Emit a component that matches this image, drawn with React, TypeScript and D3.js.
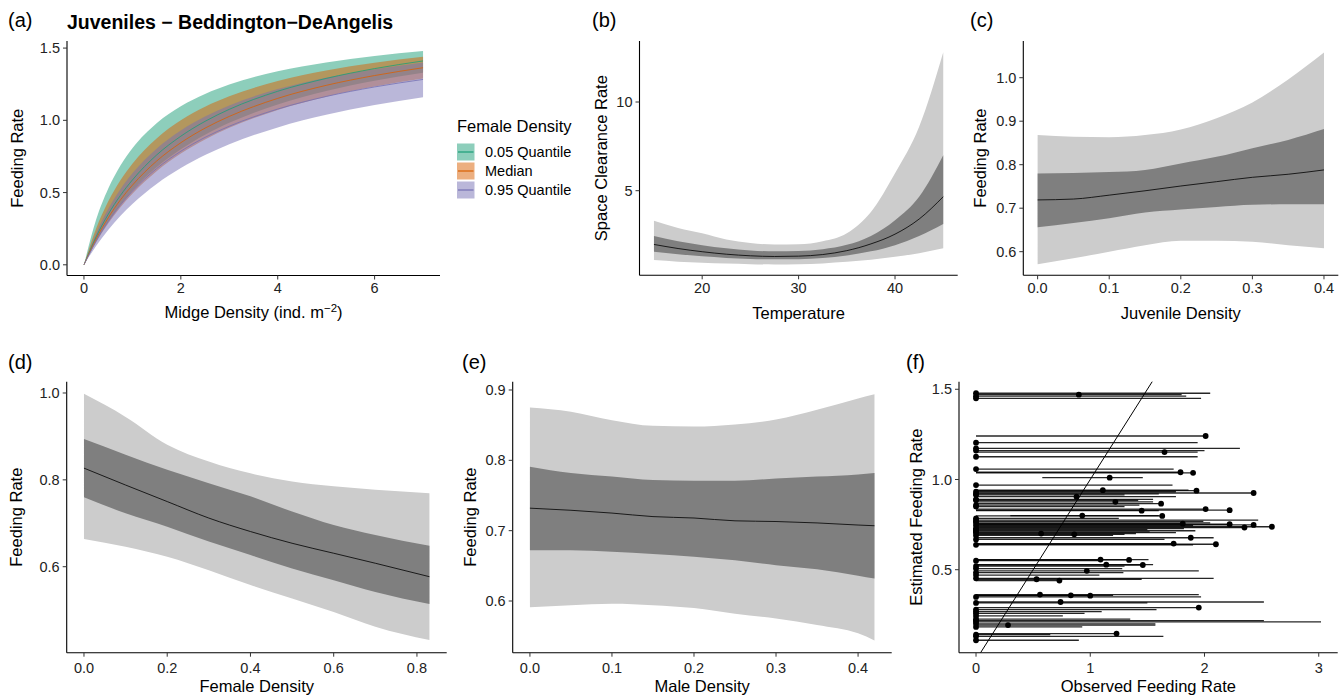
import React from "react";
import * as d3 from "d3";

const FONT = "'Liberation Sans', Arial, Helvetica, sans-serif";

// ---------- Panel (a) ----------
const aX = [0, 0.25, 0.5, 0.75, 1, 1.5, 2, 2.5, 3, 4, 5, 6, 7];
const greenUpper = [0, 0.312, 0.527, 0.686, 0.807, 0.98, 1.098, 1.183, 1.248, 1.34, 1.401, 1.446, 1.479];
const greenMid = [0, 0.193, 0.349, 0.479, 0.587, 0.76, 0.89, 0.993, 1.076, 1.201, 1.29, 1.358, 1.411];
const greenLower = [0, 0.163, 0.299, 0.415, 0.514, 0.675, 0.8, 0.901, 0.983, 1.11, 1.203, 1.274, 1.33];
const orangeUpper = [0, 0.25, 0.438, 0.584, 0.7, 0.875, 1.0, 1.094, 1.166, 1.272, 1.345, 1.399, 1.44];
const orangeMid = [0, 0.179, 0.325, 0.448, 0.551, 0.718, 0.845, 0.946, 1.027, 1.152, 1.242, 1.31, 1.364];
const orangeLower = [0, 0.155, 0.286, 0.397, 0.492, 0.648, 0.77, 0.868, 0.948, 1.072, 1.164, 1.234, 1.29];
const purpleUpper = [0, 0.217, 0.386, 0.521, 0.633, 0.804, 0.93, 1.026, 1.103, 1.216, 1.295, 1.354, 1.4];
const purpleMid = [0, 0.164, 0.299, 0.413, 0.51, 0.666, 0.786, 0.882, 0.959, 1.078, 1.165, 1.231, 1.283];
const purpleLower = [0, 0.13, 0.241, 0.337, 0.421, 0.56, 0.67, 0.76, 0.835, 0.951, 1.038, 1.106, 1.16];
const legendLabels = ["0.05 Quantile", "Median", "0.95 Quantile"];
const groupColors = ["#1b9e77", "#d95f02", "#7570b3"];

// ---------- Panel (b) ----------
const bX = [15, 17.5, 20, 22.5, 25, 27.5, 30, 32.5, 35, 37.5, 40, 42.5, 45];
const bLightUp = [3.3, 2.9, 2.6, 2.25, 2.05, 1.97, 1.98, 2.15, 2.6, 3.8, 5.98, 8.6, 12.8];
const bDarkUp = [2.44, 2.15, 1.93, 1.75, 1.63, 1.58, 1.6, 1.7, 1.95, 2.45, 3.34, 4.66, 7.0];
const bMid = [1.97, 1.74, 1.56, 1.42, 1.33, 1.29, 1.31, 1.4, 1.62, 2.0, 2.55, 3.4, 4.66];
const bDarkLo = [1.56, 1.42, 1.3, 1.21, 1.15, 1.13, 1.14, 1.21, 1.35, 1.58, 1.93, 2.45, 3.12];
const bLightLo = [1.09, 1.0, 0.94, 0.89, 0.86, 0.84, 0.85, 0.9, 0.99, 1.1, 1.27, 1.48, 1.75];

// ---------- Panel (c) ----------
const cX = [0, 0.05, 0.1, 0.15, 0.2, 0.25, 0.3, 0.35, 0.4];
const cLightUp = [0.868, 0.864, 0.863, 0.868, 0.881, 0.907, 0.943, 0.996, 1.058];
const cDarkUp = [0.78, 0.781, 0.783, 0.788, 0.803, 0.818, 0.838, 0.857, 0.882];
const cMid = [0.719, 0.721, 0.73, 0.74, 0.751, 0.761, 0.771, 0.778, 0.788];
const cDarkLo = [0.656, 0.666, 0.677, 0.69, 0.697, 0.703, 0.708, 0.709, 0.709];
const cLightLo = [0.571, 0.585, 0.6, 0.615, 0.625, 0.625, 0.623, 0.615, 0.608];

// ---------- Panel (d) ----------
const dX = [0, 0.1, 0.2, 0.3, 0.4, 0.5, 0.6, 0.7, 0.83];
const dLightUp = [0.998, 0.945, 0.881, 0.842, 0.815, 0.796, 0.785, 0.777, 0.769];
const dDarkUp = [0.894, 0.858, 0.823, 0.792, 0.762, 0.727, 0.696, 0.673, 0.648];
const dMid = [0.827, 0.788, 0.75, 0.712, 0.681, 0.654, 0.631, 0.608, 0.577];
const dDarkLo = [0.76, 0.723, 0.692, 0.658, 0.627, 0.596, 0.569, 0.542, 0.514];
const dLightLo = [0.664, 0.646, 0.623, 0.592, 0.558, 0.527, 0.496, 0.462, 0.431];

// ---------- Panel (e) ----------
const eX = [0, 0.05, 0.1, 0.15, 0.2, 0.25, 0.3, 0.35, 0.4, 0.42];
const eLightUp = [0.875, 0.869, 0.857, 0.849, 0.848, 0.851, 0.858, 0.872, 0.888, 0.894];
const eDarkUp = [0.791, 0.782, 0.777, 0.772, 0.771, 0.771, 0.774, 0.777, 0.78, 0.782];
const eMid = [0.732, 0.729, 0.725, 0.72, 0.718, 0.714, 0.713, 0.711, 0.708, 0.707];
const eDarkLo = [0.672, 0.672, 0.67, 0.667, 0.663, 0.658, 0.651, 0.645, 0.636, 0.632];
const eLightLo = [0.591, 0.594, 0.596, 0.594, 0.59, 0.582, 0.575, 0.566, 0.554, 0.544];

// ---------- Panel (f) ----------
const fEst = [1.478, 1.47, 1.462, 1.45, 1.241, 1.204, 1.173, 1.16, 1.152, 1.126, 1.058, 1.04, 1.037, 1.01, 0.969, 0.941, 0.938, 0.932, 0.925, 0.92, 0.915, 0.905, 0.89, 0.885, 0.876, 0.866, 0.858, 0.85, 0.836, 0.83, 0.827, 0.8, 0.798, 0.785, 0.775, 0.768, 0.76, 0.755, 0.752, 0.748, 0.745, 0.738, 0.734, 0.728, 0.722, 0.716, 0.71, 0.705, 0.7, 0.696, 0.69, 0.677, 0.668, 0.645, 0.641, 0.638, 0.556, 0.554, 0.55, 0.528, 0.526, 0.52, 0.506, 0.494, 0.484, 0.47, 0.452, 0.447, 0.44, 0.362, 0.358, 0.356, 0.349, 0.321, 0.316, 0.29, 0.279, 0.268, 0.258, 0.244, 0.226, 0.218, 0.211, 0.2, 0.193, 0.183, 0.146, 0.14, 0.131, 0.109];
const fObs = [0, 0.9, 0, 0, 2.01, 0, 0, 0, 1.65, 0, 0, 1.79, 1.9, 1.17, 0, 1.11, 1.93, 0, 2.43, 0, 0, 0.88, 0, 0, 1.22, 1.62, 0, 0, 2.01, 2.22, 1.45, 0.93, 1.63, 0, 0, 0, 0, 1.81, 2.22, 2.43, 0, 2.59, 2.35, 0, 0, 0, 0, 0, 0.57, 0.86, 0, 1.88, 0, 1.73, 2.1, 0, 1.09, 1.34, 0, 1.14, 1.46, 0, 0, 0.97, 0, 0, 0, 0.53, 0.73, 0.56, 0.83, 1.0, 0, 0.74, 0, 1.95, 0, 0, 0, 0, 0, 0, 0, 0, 0.28, 0, 1.23, 0, 0, 0];
const fLo = [0, 0, 0, 0, 0, 0, 0, 0, 0, 0, 0, 0, 0, 0.58, 0, 0, 0, 0, 0, 0, 0, 0, 0, 0, 0, 0, 0, 0, 0, 0, 0, 0.3, 0, 0, 0, 0, 0, 0, 0, 0, 0, 0, 0, 0, 0, 0, 0, 0, 0, 0, 0, 0, 0, 0, 0, 0, 0, 0, 0, 0, 0, 0, 0, 0, 0, 0, 0, 0, 0, 0, 0, 0, 0, 0, 0, 0, 0, 0, 0, 0, 0, 0, 0, 0, 0, 0, 0, 0, 0, 0];
const fHi = [2.05, 1.8, 1.84, 1.97, 2.01, 1.94, 2.31, 2.0, 1.94, 1.94, 1.73, 1.79, 1.9, 1.46, 1.72, 1.86, 1.93, 1.75, 2.43, 1.6, 1.3, 1.75, 1.55, 1.42, 1.55, 1.62, 1.43, 1.3, 2.01, 2.22, 1.6, 1.6, 1.63, 1.25, 2.47, 1.99, 2.05, 1.81, 2.22, 2.43, 1.9, 2.59, 2.35, 1.82, 1.5, 1.92, 1.52, 1.75, 1.4, 1.3, 1.2, 2.08, 1.65, 1.73, 2.1, 1.9, 1.51, 1.34, 1.09, 1.55, 1.46, 1.3, 1.28, 1.95, 1.29, 1.08, 2.08, 1.45, 0.73, 1.95, 1.2, 1.0, 1.97, 2.52, 1.5, 1.95, 1.58, 1.1, 0.95, 0.76, 1.35, 2.52, 3.02, 1.57, 1.57, 0.93, 1.23, 0.65, 1.64, 0.9];

type Box = { l: number; t: number; r: number; b: number };

function Axes({ box, x, y, xTicks, yTicks, xFmt, yFmt, xTitle, yTitle, yTitleX, xTitleY, xTickY }: any) {
  return (
    <g>
      <line x1={box.l} x2={box.l} y1={box.t} y2={box.b} stroke="#000" strokeWidth={1.1} />
      <line x1={box.l} x2={box.r} y1={box.b} y2={box.b} stroke="#000" strokeWidth={1.1} />
      {yTicks.map((t: number) => (
        <g key={"y" + t}>
          <line x1={box.l - 4} x2={box.l} y1={y(t)} y2={y(t)} stroke="#333" strokeWidth={1} />
          <text x={box.l - 7} y={y(t)} dy="0.35em" textAnchor="end" fontSize={14.5} fill="#222" fontFamily={FONT}>
            {yFmt(t)}
          </text>
        </g>
      ))}
      {xTicks.map((t: number) => (
        <g key={"x" + t}>
          <line x1={x(t)} x2={x(t)} y1={box.b} y2={box.b + 4} stroke="#333" strokeWidth={1} />
          <text x={x(t)} y={xTickY} dy="0.35em" textAnchor="middle" fontSize={14.5} fill="#222" fontFamily={FONT}>
            {xFmt(t)}
          </text>
        </g>
      ))}
      <text x={(box.l + box.r) / 2} y={xTitleY} dy="0.35em" textAnchor="middle" fontSize={16.5} fill="#000" fontFamily={FONT}>
        {xTitle}
      </text>
      <text
        transform={`translate(${yTitleX},${(box.t + box.b) / 2}) rotate(-90)`}
        dy="0.35em"
        textAnchor="middle"
        fontSize={16.5}
        fill="#000"
        fontFamily={FONT}
      >
        {yTitle}
      </text>
    </g>
  );
}

function RibbonPanel({ box, xDom, yDom, xs, lu, du, mid, dl, ll, xTicks, yTicks, xFmt, yFmt, xTitle, yTitle, yTitleX, xTitleY, xTickY, curve }: any) {
  const x = d3.scaleLinear().domain(xDom).range([box.l, box.r]);
  const y = d3.scaleLinear().domain(yDom).range([box.b, box.t]);
  const idx = xs.map((_: number, i: number) => i);
  const cv = curve || d3.curveMonotoneX;
  const area = (lo: number[], hi: number[]) =>
    d3.area<number>().x((i) => x(xs[i])).y0((i) => y(lo[i])).y1((i) => y(hi[i])).curve(cv)(idx) || "";
  const line = d3.line<number>().x((i) => x(xs[i])).y((i) => y(mid[i])).curve(cv)(idx) || "";
  return (
    <g>
      <path d={area(ll, lu)} fill="#cccccc" />
      <path d={area(dl, du)} fill="#7f7f7f" />
      <path d={line} fill="none" stroke="#000" strokeWidth={0.8} />
      <Axes box={box} x={x} y={y} xTicks={xTicks} yTicks={yTicks} xFmt={xFmt} yFmt={yFmt} xTitle={xTitle} yTitle={yTitle} yTitleX={yTitleX} xTitleY={xTitleY} xTickY={xTickY} />
    </g>
  );
}

function PanelA() {
  const box: Box = { l: 67, t: 41, r: 440, b: 275.5 };
  const x = d3.scaleLinear().domain([-0.35, 7.35]).range([box.l, box.r]);
  const y = d3.scaleLinear().domain([-0.074, 1.549]).range([box.b, box.t]);
  const idx = aX.map((_, i) => i);
  const area = (lo: number[], hi: number[]) =>
    d3.area<number>().x((i) => x(aX[i])).y0((i) => y(lo[i])).y1((i) => y(hi[i])).curve(d3.curveMonotoneX)(idx) || "";
  const line = (m: number[]) => d3.line<number>().x((i) => x(aX[i])).y((i) => y(m[i])).curve(d3.curveMonotoneX)(idx) || "";
  const groups = [
    [greenLower, greenMid, greenUpper],
    [orangeLower, orangeMid, orangeUpper],
    [purpleLower, purpleMid, purpleUpper],
  ];
  const fmt = d3.format(".1f");
  return (
    <g>
      {groups.map((g, k) => (
        <path key={"r" + k} d={area(g[0], g[2])} fill={groupColors[k]} fillOpacity={0.5} />
      ))}
      {groups.map((g, k) => (
        <path key={"l" + k} d={line(g[1])} fill="none" stroke={groupColors[k]} strokeWidth={0.8} />
      ))}
      <Axes
        box={box}
        x={x}
        y={y}
        xTicks={[0, 2, 4, 6]}
        yTicks={[0, 0.5, 1.0, 1.5]}
        xFmt={(d: number) => String(d)}
        yFmt={fmt}
        xTitle={
          <>
            Midge Density (ind. m
            <tspan dy="-6" fontSize={11.5}>−2</tspan>
            <tspan dy="6">)</tspan>
          </>
        }
        yTitle="Feeding Rate"
        yTitleX={17}
        xTitleY={312}
        xTickY={287.5}
      />
      <text x={67} y={22} dy="0.35em" fontSize={19.5} fontWeight="bold" fontFamily={FONT} fill="#000">
        Juveniles − Beddington−DeAngelis
      </text>
      {/* legend */}
      <text x={457} y={126} dy="0.35em" fontSize={16.5} fontFamily={FONT} fill="#000">
        Female Density
      </text>
      {legendLabels.map((lab, k) => {
        const cy = 152 + k * 19;
        return (
          <g key={lab}>
            <rect x={457} y={cy - 8.5} width={17.5} height={17} fill={groupColors[k]} fillOpacity={0.5} />
            <line x1={458} x2={473.5} y1={cy} y2={cy} stroke={groupColors[k]} strokeWidth={1.2} />
            <text x={485} y={cy} dy="0.35em" fontSize={14.5} fontFamily={FONT} fill="#000">
              {lab}
            </text>
          </g>
        );
      })}
    </g>
  );
}

function PanelF() {
  const box: Box = { l: 959, t: 381.7, r: 1337.7, b: 652.7 };
  const x = d3.scaleLinear().domain([-0.149, 3.166]).range([box.l, box.r]);
  const y = d3.scaleLinear().domain([0.04, 1.542]).range([box.b, box.t]);
  const diag = d3.line<number>().x((v) => x(v)).y((v) => y(v))([0.04, 1.542]) || "";
  return (
    <g>
      {fEst.map((e, i) => (
        <line key={"s" + i} x1={x(fLo[i])} x2={x(fHi[i])} y1={y(e)} y2={y(e)} stroke="#000" strokeOpacity={0.85} strokeWidth={1.3} />
      ))}
      {fEst.map((e, i) => (
        <circle key={"p" + i} cx={x(fObs[i])} cy={y(e)} r={2.9} fill="#000" />
      ))}
      <path d={diag} fill="none" stroke="#000" strokeWidth={1} />
      <Axes
        box={box}
        x={x}
        y={y}
        xTicks={[0, 1, 2, 3]}
        yTicks={[0.5, 1.0, 1.5]}
        xFmt={(d: number) => String(d)}
        yFmt={d3.format(".1f")}
        xTitle="Observed Feeding Rate"
        yTitle="Estimated Feeding Rate"
        yTitleX={916}
        xTitleY={686}
        xTickY={667.5}
      />
    </g>
  );
}

const panelLabels = [
  { t: "(a)", x: 8, y: 20 },
  { t: "(b)", x: 592, y: 20 },
  { t: "(c)", x: 970, y: 20 },
  { t: "(d)", x: 8, y: 362 },
  { t: "(e)", x: 462, y: 362 },
  { t: "(f)", x: 906, y: 362 },
];

export default function App() {
  const f1 = d3.format(".1f");
  const f0 = (d: number) => String(d);
  return (
    <svg width={1343} height={695} style={{ position: "absolute", left: 0, top: 0, background: "#fff" }}>
      <rect width={1343} height={695} fill="#fff" />
      <PanelA />
      <RibbonPanel
        box={{ l: 639.5, t: 41, r: 957.7, b: 275.3 }}
        xDom={[13.5, 46.5]}
        yDom={[0.23, 13.44]}
        xs={bX}
        lu={bLightUp}
        du={bDarkUp}
        mid={bMid}
        dl={bDarkLo}
        ll={bLightLo}
        xTicks={[20, 30, 40]}
        yTicks={[5, 10]}
        xFmt={f0}
        yFmt={f0}
        xTitle="Temperature"
        yTitle="Space Clearance Rate"
        yTitleX={601.5}
        xTitleY={313}
        xTickY={287.5}
      />
      <RibbonPanel
        box={{ l: 1023.3, t: 41, r: 1338.3, b: 275.3 }}
        xDom={[-0.02, 0.42]}
        yDom={[0.5457, 1.0844]}
        xs={cX}
        lu={cLightUp}
        du={cDarkUp}
        mid={cMid}
        dl={cDarkLo}
        ll={cLightLo}
        xTicks={[0, 0.1, 0.2, 0.3, 0.4]}
        yTicks={[0.6, 0.7, 0.8, 0.9, 1.0]}
        xFmt={f1}
        yFmt={f1}
        xTitle="Juvenile Density"
        yTitle="Feeding Rate"
        yTitleX={980.5}
        xTitleY={313}
        xTickY={287.5}
      />
      <RibbonPanel
        box={{ l: 66.7, t: 381.7, r: 446.7, b: 652.7 }}
        xDom={[-0.0415, 0.8715]}
        yDom={[0.402, 1.026]}
        xs={dX}
        lu={dLightUp}
        du={dDarkUp}
        mid={dMid}
        dl={dDarkLo}
        ll={dLightLo}
        xTicks={[0, 0.2, 0.4, 0.6, 0.8]}
        yTicks={[0.6, 0.8, 1.0]}
        xFmt={f1}
        yFmt={f1}
        xTitle="Female Density"
        yTitle="Feeding Rate"
        yTitleX={16.7}
        xTitleY={686}
        xTickY={667.5}
      />
      <RibbonPanel
        box={{ l: 512.7, t: 381.7, r: 891.7, b: 652.7 }}
        xDom={[-0.021, 0.441]}
        yDom={[0.5265, 0.9118]}
        xs={eX}
        lu={eLightUp}
        du={eDarkUp}
        mid={eMid}
        dl={eDarkLo}
        ll={eLightLo}
        xTicks={[0, 0.1, 0.2, 0.3, 0.4]}
        yTicks={[0.6, 0.7, 0.8, 0.9]}
        xFmt={f1}
        yFmt={f1}
        xTitle="Male Density"
        yTitle="Feeding Rate"
        yTitleX={470.7}
        xTitleY={686}
        xTickY={667.5}
      />
      <PanelF />
      {panelLabels.map((p) => (
        <text key={p.t} x={p.x} y={p.y} dy="0.35em" fontSize={20} fontFamily={FONT} fill="#000">
          {p.t}
        </text>
      ))}
    </svg>
  );
}
